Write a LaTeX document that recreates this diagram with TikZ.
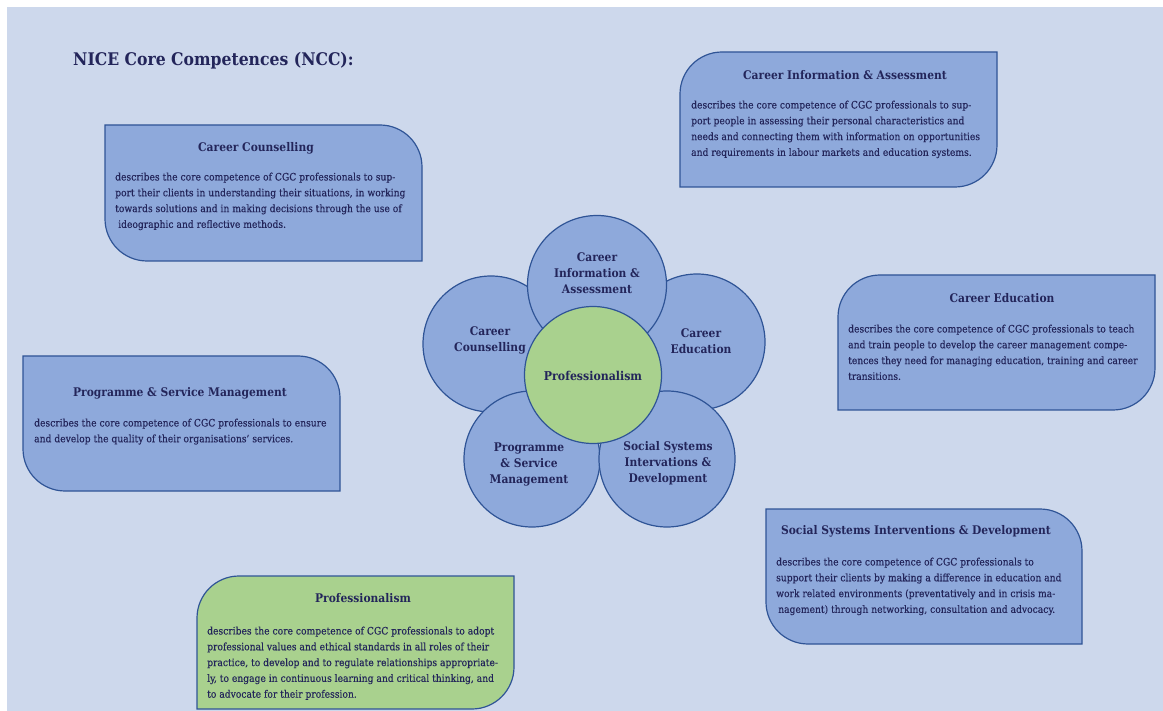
\documentclass[tikz,border=0pt]{standalone}
\usepackage{fontspec}
\setmainfont{DejaVu Serif Condensed}
\definecolor{bgc}{HTML}{CDD8EC}
\definecolor{boxfill}{HTML}{8EA9DB}
\definecolor{edge}{HTML}{2F5496}
\definecolor{profgreen}{HTML}{A9D18E}
\definecolor{ink}{HTML}{23255A}
\newcommand\pttl{\bfseries\fontsize{11.9}{16}\selectfont}
\newcommand\pctl{\bfseries\fontsize{12.2}{16}\selectfont}
\newcommand\pbdy{\addfontfeature{FakeBold=0.25}\fontsize{10.2}{15.8}\selectfont}
\newcommand\pmain{\bfseries\fontsize{17.4}{20}\selectfont}
\begin{document}
\begin{tikzpicture}[x=1pt,y=1pt,
  panel/.style={fill=boxfill, draw=edge, line width=1.2pt},
  greenpanel/.style={fill=profgreen, draw=edge, line width=1.2pt},
  petal/.style={circle, minimum size=136pt, inner sep=0pt, fill=boxfill, draw=edge, line width=1.2pt},
  core/.style={circle, minimum size=137pt, inner sep=0pt, fill=profgreen, draw=edge, line width=1.2pt},
  ptitle/.style={font=\pttl, text=ink, inner sep=0pt},
  pbody/.style={font=\pbdy, text=ink, align=left, anchor=north west, inner sep=0pt},
  plabel/.style={font=\pttl, text=ink, align=center, inner sep=0pt},
]
\useasboundingbox (0,0) rectangle (1163,-711);
\fill[bgc] (7,-7) rectangle (1163,-711);

% title
\node[font=\pmain, text=ink, anchor=west, inner sep=0pt] (title) at (73,-61) {NICE Core Competences (NCC):};

% panels: type A (rounded top-right, bottom-left)
\draw[panel] (105,-125) -- (380,-125) arc[start angle=90,end angle=0,radius=42] -- (422,-261) -- (147,-261) arc[start angle=270,end angle=180,radius=42] -- cycle;
\draw[panel] (23,-356) -- (298,-356) arc[start angle=90,end angle=0,radius=42] -- (340,-491) -- (65,-491) arc[start angle=270,end angle=180,radius=42] -- cycle;
\draw[panel] (766,-509) -- (1040,-509) arc[start angle=90,end angle=0,radius=42] -- (1082,-644) -- (808,-644) arc[start angle=270,end angle=180,radius=42] -- cycle;
% type B (rounded top-left, bottom-right)
\draw[panel] (722,-52) -- (997,-52) -- (997,-145) arc[start angle=0,end angle=-90,radius=42] -- (680,-187) -- (680,-94) arc[start angle=180,end angle=90,radius=42] -- cycle;
\draw[panel] (880,-275) -- (1155,-275) -- (1155,-368) arc[start angle=0,end angle=-90,radius=42] -- (838,-410) -- (838,-317) arc[start angle=180,end angle=90,radius=42] -- cycle;
\draw[greenpanel] (239,-576) -- (514,-576) -- (514,-667) arc[start angle=0,end angle=-90,radius=42] -- (197,-709) -- (197,-618) arc[start angle=180,end angle=90,radius=42] -- cycle;

% panel titles
\node[ptitle] (t1) at (256,-148) {Career Counselling};
\node[ptitle] (t2) at (845,-75) {Career Information \& Assessment};
\node[ptitle] (t3) at (1002,-298) {Career Education};
\node[ptitle] (t4) at (180,-393) {Programme \& Service Management};
\node[ptitle] (t5) at (916,-531) {Social Systems Interventions \& Development};
\node[ptitle] (t6) at (363,-598) {Professionalism};

% panel bodies
\node[pbody] (b1) at (115,-172.5) {describes the core competence of CGC professionals to sup-\\port their clients in understanding their situations, in working\\towards solutions and in making decisions through the use of\\\hspace{3pt}ideographic and reflective methods.};
\node[pbody] (b2) at (691,-100.5) {describes the core competence of CGC professionals to sup-\\port people in assessing their personal characteristics and\\needs and connecting them with information on opportunities\\and requirements in labour markets and education systems.};
\node[pbody] (b3) at (848,-324.5) {describes the core competence of CGC professionals to teach\\and train people to develop the career management compe-\\tences they need for managing education, training and career\\transitions.};
\node[pbody] (b4) at (34,-418.5) {describes the core competence of CGC professionals to ensure\\and develop the quality of their organisations’ services.};
\node[pbody] (b5) at (776,-557.5) {describes the core competence of CGC professionals to\\support their clients by making a difference in education and\\work related environments (preventatively and in crisis ma-\\\hspace{2pt}nagement) through networking, consultation and advocacy.};
\node[pbody] (b6) at (207,-626.5) {describes the core competence of CGC professionals to adopt\\professional values and ethical standards in all roles of their\\practice, to develop and to regulate relationships appropriate-\\ly, to engage in continuous learning and critical thinking, and\\to advocate for their profession.};

% flower
\node[petal] (cc) at (491,-344) {};
\node[petal] (ce) at (697,-342) {};
\node[petal] (psm) at (532,-459) {};
\node[petal] (ssid) at (667,-459) {};
\node[petal, minimum size=139pt] (cia) at (597,-285) {};
\node[core] (prof) at (593,-375) {};

\node[plabel] (lcia) at (597,-273) {Career\\Information \&\\Assessment};
\node[plabel] (lcc) at (490,-340) {Career\\Counselling};
\node[plabel] (lce) at (701,-341) {Career\\Education};
\node[plabel] (lpsm) at (529,-464) {Programme\\\& Service\\Management};
\node[plabel] (lssid) at (668,-463) {Social Systems\\Intervations \&\\Development};
\node[plabel, font=\pctl] (lprof) at (593,-376) {Professionalism};
\end{tikzpicture}
\end{document}
